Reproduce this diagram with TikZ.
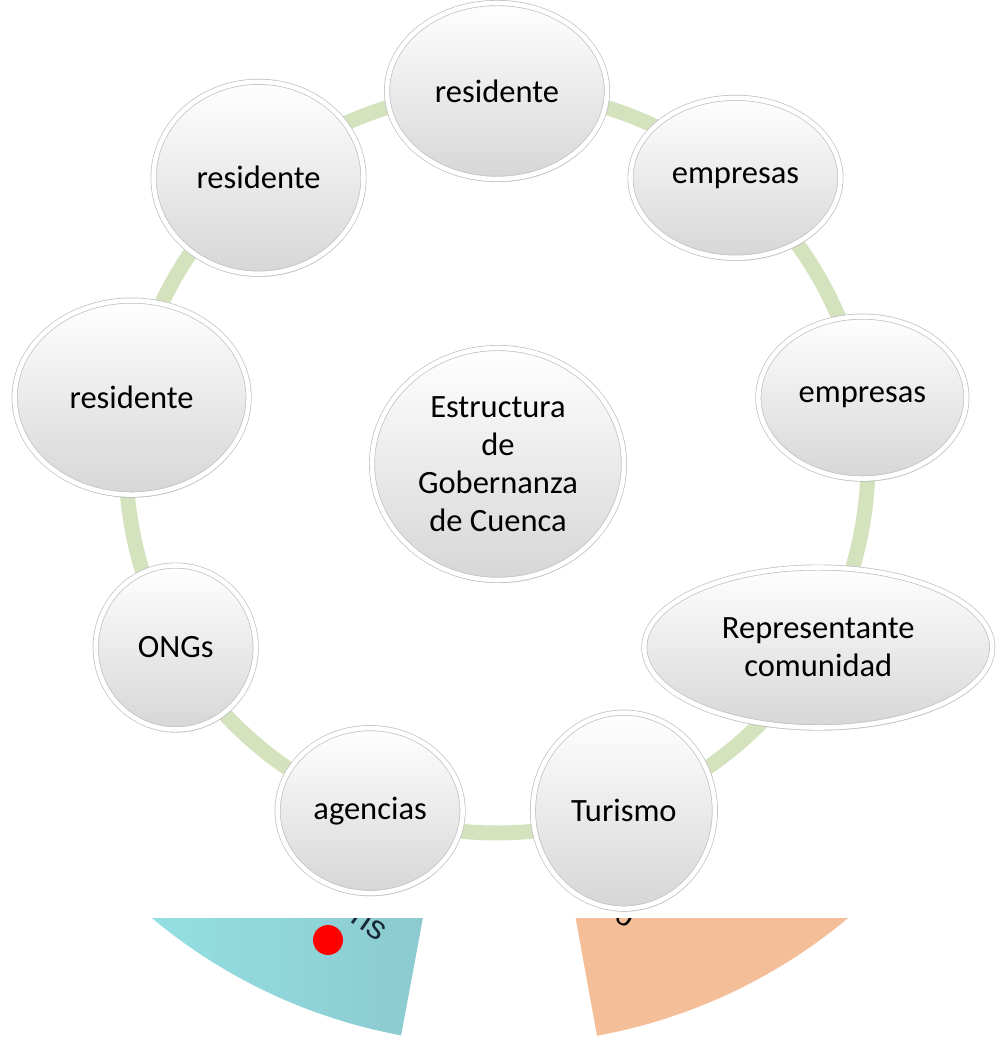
\documentclass[tikz,border=0pt]{standalone}
\usepackage{fontspec}
\setmainfont{Carlito}
\newfontfamily\arialfont{Liberation Sans}
\usepackage{tikz}
\usetikzlibrary{shapes.geometric,shadows,backgrounds}

\definecolor{ringgreen}{RGB}{212,227,189}
\definecolor{slicecyanA}{RGB}{152,236,238}
\definecolor{slicecyanB}{RGB}{138,196,202}
\definecolor{sliceorange}{RGB}{244,190,152}
\definecolor{labelnavy}{RGB}{25,40,55}

\begin{document}
\begin{tikzpicture}[
  bubble/.style={ellipse, align=center, inner sep=0pt,
    font=\fontsize{18.5}{21.6}\selectfont,
    top color=white, bottom color=gray!32,
    draw=gray!50, line width=0.4pt, double=white, double distance=2.6pt,
    drop shadow={shadow xshift=0.5pt, shadow yshift=-1.8pt, opacity=0.28, fill=gray}},
  ring/.style={draw=ringgreen, line width=8.5pt}]
\useasboundingbox (-9.94,-11.64) rectangle (10.04,9.24);
% Centre
\node[bubble, minimum width=5.04cm, minimum height=4.64cm] (cuenca) at (0.02,-0.04)
  {Estructura\\de\\Gobernanza\\de Cuenca};
% Actors round the ring
\node[bubble, minimum width=4.4cm, minimum height=3.52cm] (res1) at (90:7.42) {residente};
\node[bubble, minimum width=4.2cm, minimum height=3.2cm] (emp1) at (50:7.42) {empresas};
\node[bubble, minimum width=4.16cm, minimum height=3.24cm] (emp2) at (10:7.42) {empresas};
\node[bubble, minimum width=6.96cm, minimum height=3.2cm] (repr) at (-30:7.42) {Representante\\comunidad};
\node[bubble, minimum width=3.64cm, minimum height=3.92cm] (tur) at (-70:7.42) {Turismo};
\node[bubble, minimum width=3.7cm, minimum height=3.3cm] (agen) at (-110:7.42) {agencias};
\node[bubble, minimum width=3.2cm, minimum height=3.28cm] (ongs) at (-150:7.42) {ONGs};
\node[bubble, minimum width=4.68cm, minimum height=3.88cm] (res2) at (170:7.42) {residente};
\node[bubble, minimum width=4.2cm, minimum height=3.84cm] (res3) at (130:7.42) {residente};
% Green ring
\begin{scope}[on background layer]
\draw[ring] (res1.center) to[bend left=20, looseness=0.88] (emp1.center)
  to[bend left=20, looseness=0.88] (emp2.center)
  to[bend left=20, looseness=0.88] (repr.center)
  to[bend left=20, looseness=0.88] (tur.center)
  to[bend left=20, looseness=0.88] (agen.center)
  to[bend left=20, looseness=0.88] (ongs.center)
  to[bend left=20, looseness=0.88] (res2.center)
  to[bend left=20, looseness=0.88] (res3.center)
  to[bend left=20, looseness=0.88] (res1.center);
\end{scope}
% Cut-off pie below
\begin{scope}
\clip (-9.94,-11.64) rectangle (10.04,-9.12);
\shade[left color=slicecyanA, right color=slicecyanB]
  (0.06,-0.8) -- ++(200:10.85) arc (200:259.5:10.85) -- cycle;
\fill[sliceorange] (0.06,-0.8) -- ++(280.3:10.85) arc (280.3:330:10.85) -- cycle;
\fill[red] (-3.38,-9.56) circle (0.3);
\node[text=labelnavy, rotate=-35, font=\arialfont\fontsize{19}{19}\selectfont] (ens) at (-2.72,-9.14) {ens};
\node[rotate=-30, font=\arialfont\fontsize{17}{17}\selectfont] (frag) at (2.56,-9.12) {o};
\end{scope}
\end{tikzpicture}
\end{document}
